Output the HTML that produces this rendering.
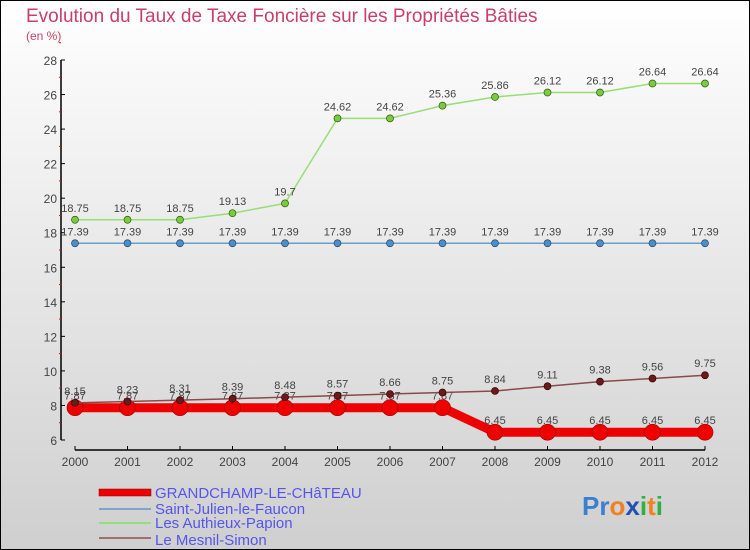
<!DOCTYPE html>
<html><head><meta charset="utf-8"><style>
body{margin:0;}
#c{width:750px;height:550px;position:relative;overflow:hidden;font-family:"Liberation Sans",sans-serif;}
</style></head><body>
<div id="c">
<svg id="s" width="750" height="550" xmlns="http://www.w3.org/2000/svg">
<defs><linearGradient id="bg" x1="0" y1="0" x2="0" y2="1"><stop offset="0" stop-color="#ffffff"/><stop offset="1" stop-color="#cfcfcf"/></linearGradient></defs>
<rect x="0.5" y="0.5" width="749" height="549" fill="url(#bg)" stroke="#000"/>
<text x="26" y="22" font-size="19" fill="#c8406a">Evolution du Taux de Taxe Foncière sur les Propriétés Bâties</text>
<text x="26" y="40" font-size="12" fill="#c8406a">(en %)</text>
<g id="axes"></g><g id="series"></g>
<g font-size="15" fill="#5555ee">
<rect x="99" y="489" width="52" height="7" fill="#ee0000" stroke="#800" stroke-width="0.5"/>
<text x="155" y="498">GRANDCHAMP-LE-CHâTEAU</text>
<line x1="99" y1="509" x2="151" y2="509" stroke="#7aa6c8" stroke-width="2"/>
<text x="155" y="514">Saint-Julien-le-Faucon</text>
<line x1="99" y1="523" x2="151" y2="523" stroke="#99dd77" stroke-width="2"/>
<text x="155" y="528">Les Authieux-Papion</text>
<line x1="99" y1="538" x2="151" y2="538" stroke="#a07070" stroke-width="2"/>
<text x="155" y="545">Le Mesnil-Simon</text>
</g>
<text x="582" y="515" font-size="26" font-weight="bold"><tspan fill="#3a7fd0">Pr</tspan><tspan fill="#f08020">o</tspan><tspan fill="#2050b0">x</tspan><tspan fill="#30b040">i</tspan><tspan fill="#f08020">t</tspan><tspan fill="#30b040">i</tspan></text>
</svg></div>
<script>
const years=[2000,2001,2002,2003,2004,2005,2006,2007,2008,2009,2010,2011,2012];
const yTicks=[6,8,10,12,14,16,18,20,22,24,26,28];
const grandchamp=[7.87,7.87,7.87,7.87,7.87,7.87,7.87,7.87,6.45,6.45,6.45,6.45,6.45];
const saintJulien=[17.39,17.39,17.39,17.39,17.39,17.39,17.39,17.39,17.39,17.39,17.39,17.39,17.39];
const authieux=[18.75,18.75,18.75,19.13,19.7,24.62,24.62,25.36,25.86,26.12,26.12,26.64,26.64];
const mesnil=[8.15,8.23,8.31,8.39,8.48,8.57,8.66,8.75,8.84,9.11,9.38,9.56,9.75];
const NS="http://www.w3.org/2000/svg";
const X=i=>75+i*(630/(years.length-1));
const Y=v=>440-(v-6)*(380/22);
function mk(t,a,p){const e=document.createElementNS(NS,t);for(const k in a)e.setAttribute(k,a[k]);p.appendChild(e);return e;}
const ax=document.getElementById('axes');
let l=mk('line',{x1:61,y1:Y(28),x2:61,y2:Y(6),stroke:'#000','stroke-width':1.5},ax);


l=mk('line',{x1:75,y1:450,x2:705,y2:450,stroke:'#000','stroke-width':1.5},ax);


yTicks.forEach(v=>{
 mk('line',{x1:61,y1:Y(v),x2:65,y2:Y(v),stroke:'#000'},ax);
 mk('line',{x1:59,y1:Y(v+1),x2:61,y2:Y(v+1),stroke:'#f00'},ax);
 const t=mk('text',{x:57,y:Y(v)+5,'font-size':12,'text-anchor':'end',fill:'#444'},ax);
 t.textContent=v;
 
 
});
years.forEach((yr,i)=>{
 mk('line',{x1:X(i),y1:446,x2:X(i),y2:450,stroke:'#000'},ax);
 const t=mk('text',{x:X(i),y:466,'font-size':12,'text-anchor':'middle',fill:'#444'},ax);
 t.textContent=yr;
 
 
});
const sg=document.getElementById('series');
function series(data,name,color,dot,w,r,dstroke){
 const g=mk('g',{},sg);
 
 
 const pl=mk('polyline',{points:data.map((v,i)=>X(i)+','+Y(v)).join(' '),fill:'none',stroke:color,'stroke-width':w},g);
 
 
 data.forEach((v,i)=>{
  const c=mk('circle',{cx:X(i),cy:Y(v),r:r,fill:dot,stroke:dstroke,'stroke-width':0.7},g);
  
  
  const t=mk('text',{x:X(i),y:Y(v)-8,'font-size':11,'text-anchor':'middle',fill:'#444'},g);
  t.textContent=v;
  
  
 });
}
series(saintJulien,'saint-julien','#6a9fc8','#4a8fc8',1.5,3.5,'#246');
series(authieux,'authieux','#99dd77','#77cc44',1.5,3.5,'#350');
series(grandchamp,'grandchamp','#ee0000','#ee0000',9,8,'#a00');
series(mesnil,'mesnil','#8a4a4a','#6a1a1a',1.5,3.5,'#300');
</script>
</body></html>
